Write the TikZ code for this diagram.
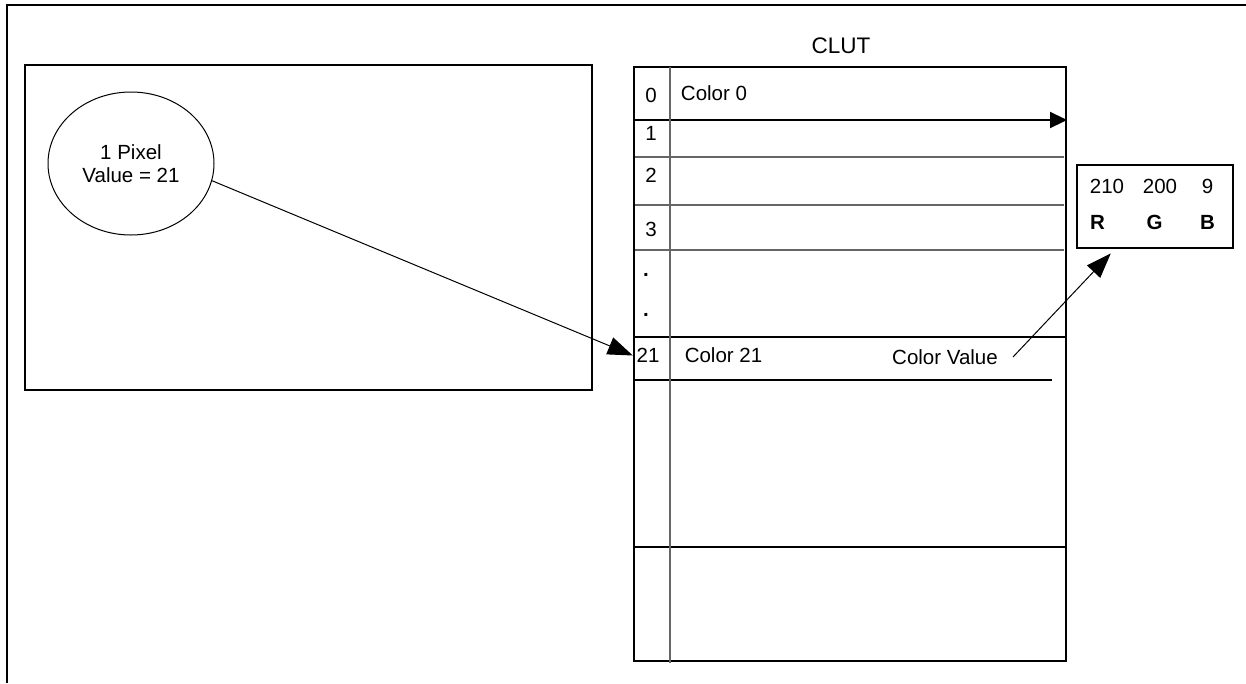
\documentclass[tikz,border=0pt]{standalone}
\usepackage{fontspec}
\setmainfont{Liberation Sans}
\usetikzlibrary{arrows.meta,shapes.geometric}

\tikzset{
  frame/.style={line width=2.2pt},
  grayline/.style={line width=2pt, draw=black!60},
  txt/.style={inner sep=0pt},
  thinarrow/.style={line width=1pt, -{Triangle[length=25pt,width=18pt]}},
  rowarrow/.style={line width=2.2pt, -{Triangle[length=17pt,width=16pt]}},
}

\begin{document}
\begin{tikzpicture}[x=1pt, y=-1pt, font=\fontsize{20.5}{23}\selectfont]
  \useasboundingbox (0,0) rectangle (1246,683);
  % Outer frame (open at right and bottom)
  \draw[frame] (7,683) -- (7,5) -- (1246,5);

  % Frame buffer with one pixel
  \draw[frame] (25,65) rectangle (592,390);
  \node[ellipse, draw, line width=1pt, minimum width=166pt, minimum height=143pt,
        align=center, inner sep=0pt] (pixel) at (131,163.5) {1 Pixel\\Value = 21};

  % CLUT table
  \node[txt, font=\fontsize{22.5}{26}\selectfont] (clut) at (841,46) {CLUT};
  \foreach \y in {157,205,250} {
    \draw[grayline] (634,\y) -- (1064,\y);
  }
  \foreach \y in {337,547} {
    \draw[frame] (634,\y) -- (1066,\y);
  }
  \draw[frame] (634,380) -- (1052,380);
  \draw[frame] (634,67) rectangle (1066,661);
  \coordinate (row1l) at (634,120);
  \coordinate (row1r) at (1067,120);
  \draw[rowarrow] (row1l) -- (row1r);
  \draw[grayline] (669.5,67) -- (669.5,663);

  % Index column
  \foreach \t/\y in {0/95,1/133.5,2/175,3/229.5} {
    \node[txt] (idx\t) at (651,\y) {\t};
  }
  \node[txt] (dotA) at (646,275) {\bfseries .};
  \node[txt] (dotB) at (646,315) {\bfseries .};
  \node[txt, minimum width=30pt] (idx21) at (648,355.5) {21};

  % Entries
  \node[txt] (col0) at (714,93) {Color 0};
  \node[txt] (col21) at (723.5,355.5) {Color 21};
  \node[txt, inner xsep=15pt] (cval) at (945,357) {Color Value};

  % RGB value box
  \node[draw, frame, minimum width=156pt, minimum height=83pt] (rgb) at (1155,206.5) {};
  \foreach \v/\x [count=\i] in {210/1107,200/1160,9/1207.5} {
    \node[txt] (val\i) at (\x,186) {\v};
  }
  \foreach \c/\x in {R/1097.5,G/1154.5,B/1207.5} {
    \node[txt] (ch\c) at (\x,222) {\bfseries\c};
  }

  % Lookup arrows
  \draw[thinarrow] (pixel.-12) -- (idx21.west);
  \draw[thinarrow, shorten >=6pt] (cval.east) -- (rgb);
\end{tikzpicture}
\end{document}
